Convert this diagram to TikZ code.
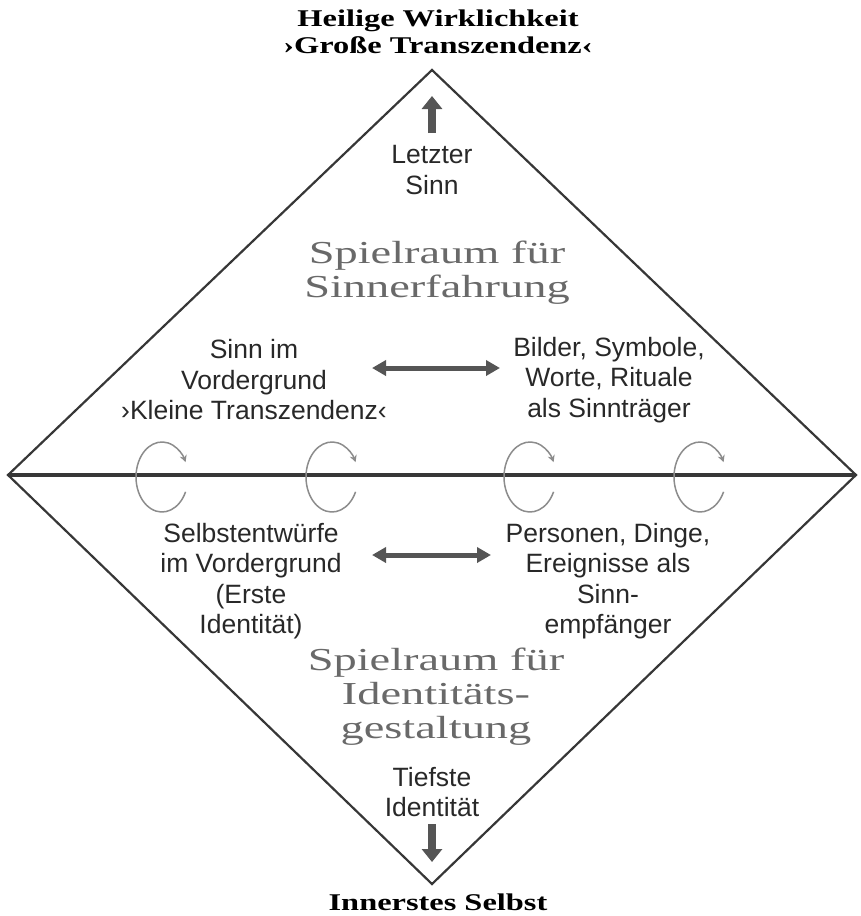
\documentclass[tikz,border=0pt]{standalone}
\usepackage{fontspec}
\usepackage{tikz}
\usetikzlibrary{arrows.meta}
\setmainfont{Liberation Sans}
\newfontfamily\headfont[FakeStretch=1.35]{Liberation Serif}
\newfontfamily\roomfont[FakeStretch=1.45]{Liberation Serif}
\definecolor{linegray}{RGB}{55,55,55}
\definecolor{arrowgray}{RGB}{85,85,85}
\definecolor{curlgray}{RGB}{140,140,140}
\definecolor{roomgray}{RGB}{105,105,105}
\definecolor{textdark}{RGB}{40,40,40}
\tikzset{
  labeltext/.style={align=center, inner sep=0pt, text=textdark, font=\fontsize{26.5}{30.5}\selectfont},
  headtext/.style={align=center, inner sep=0pt, text=black, font=\headfont\bfseries\fontsize{24}{27}\selectfont},
  roomtext/.style={align=center, inner sep=0pt, text=roomgray, font=\roomfont\fontsize{32}{34}\selectfont},
  blockarrow/.style={draw=arrowgray, line width=7.5pt, -{Triangle[length=13pt,width=20pt]}},
  twoway/.style={draw=arrowgray, line width=5pt, {Triangle[length=14pt,width=15pt]}-{Triangle[length=14pt,width=15pt]}},
  curl/.style={draw=curlgray, line width=1.5pt, -{Stealth[length=7pt,width=7pt]}},
}

\begin{document}
\begin{tikzpicture}[x=1pt,y=1pt,yscale=-1,xscale=1]
\useasboundingbox (0,0) rectangle (861,916);

%Shape: Diamond
\coordinate (top) at (432,70);
\coordinate (right) at (856,475);
\coordinate (bottom) at (432,884);
\coordinate (left) at (8,475);
\draw [linegray, line width=2.2pt, line join=miter]  (top) -- (right) -- (bottom) -- (left) -- cycle ;
%Shape: Middle line
\draw [linegray, line width=3.5pt]  (left) -- (right) ;

% Text Node
\node [headtext] (heilig) at (438,32) {Heilige Wirklichkeit\\›Große Transzendenz‹};
% Text Node
\node [labeltext] (letzter) at (432,170) {Letzter\\Sinn};
% Text Node
\node [roomtext] (sinnraum) at (437,273) {Spielraum für\\Sinnerfahrung};
% Text Node
\node [labeltext] (vorder) at (254,380) {Sinn im\\Vordergrund\\›Kleine Transzendenz‹};
% Text Node
\node [labeltext] (traeger) at (609,380) {Bilder, Symbole,\\Worte, Rituale\\als Sinnträger};
% Text Node
\node [labeltext] (entwurf) at (251,581) {Selbstentwürfe\\im Vordergrund\\(Erste\\Identität)};
% Text Node
\node [labeltext] (empfang) at (608,581) {Personen, Dinge,\\Ereignisse als\\Sinn-\\empfänger};
% Text Node
\node [roomtext] (identraum) at (436,697) {Spielraum für\\Identitäts-\\gestaltung};
% Text Node
\node [labeltext] (tiefste) at (432,792) {Tiefste\\Identität};
% Text Node
\node [headtext] (selbst) at (438,902) {Innerstes Selbst};

% Arrow ends
\coordinate (upA) at (432,133);
\coordinate (upB) at (432,96);
\coordinate (downA) at (432,824);
\coordinate (downB) at (432,862);
\coordinate (sinnL) at (372,368);
\coordinate (sinnR) at (500,368);
\coordinate (identL) at (372,555);
\coordinate (identR) at (491,555);

% Connection
\draw [blockarrow]  (upA) -- (upB) ;
\draw [blockarrow]  (downA) -- (downB) ;
\draw [twoway]  (sinnL) -- (sinnR) ;
\draw [twoway]  (identL) -- (identR) ;

% Curls on the middle line
\foreach \x in {162,332,530,700}
  \draw [curl]  (\x,477) ++(25:26 and 35) arc [start angle=25, end angle=335, x radius=26, y radius=35] ;

\end{tikzpicture}
\end{document}
